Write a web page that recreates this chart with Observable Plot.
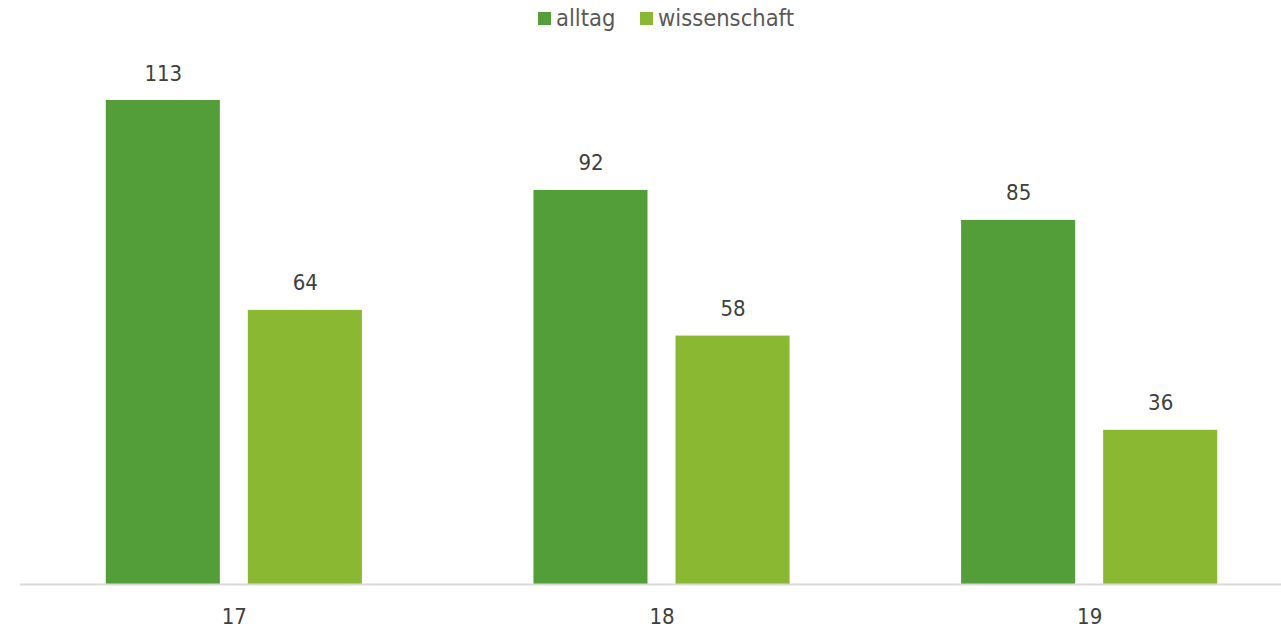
<!DOCTYPE html>
<html>
<head>
<meta charset="utf-8">
<script src="https://cdn.jsdelivr.net/npm/d3@7"></script>
<script src="https://cdn.jsdelivr.net/npm/@observablehq/plot@0.6"></script>
<style>
  html, body { margin: 0; padding: 0; background: #fff; }
  body { width: 1281px; height: 626px; position: relative; overflow: hidden; font-family: "DejaVu Sans Condensed", "DejaVu Sans", sans-serif; }
  .lg { position: absolute; top: 4px; display: flex; align-items: center; gap: 5px; font-size: 23.5px; line-height: 28px; color: #595959; z-index: 2; font-family: "DejaVu Sans Condensed", "DejaVu Sans", sans-serif; white-space: nowrap; }
  .lg span.sw { width: 13px; height: 13px; display: inline-block; }
  #chart { position: absolute; top: 0; left: 0; }
</style>
</head>
<body>
<div id="legend"></div>
<div id="chart"></div>
<script>
const categories = ["17", "18", "19"];
const seriesNames = ["alltag", "wissenschaft"];
const alltag = [113, 92, 85];
const wissenschaft = [64, 58, 36];
const colors = ["#549e39", "#8ab833"];
const legendLeft = [538, 640];

const data = [];
categories.forEach((c, i) => {
  data.push({cat: c, series: "alltag", value: alltag[i]});
  data.push({cat: c, series: "wissenschaft", value: wissenschaft[i]});
});

const legend = document.getElementById("legend");
seriesNames.forEach((s, i) => {
  const it = document.createElement("div");
  it.className = "lg";
  it.style.left = legendLeft[i] + "px";
  const sw = document.createElement("span");
  sw.className = "sw";
  sw.style.background = colors[i];
  it.appendChild(sw);
  it.appendChild(document.createTextNode(s));
  legend.appendChild(it);
});

const chart = Plot.plot({
  width: 1281,
  height: 626,
  marginTop: 70,
  marginBottom: 42,
  marginLeft: 20,
  marginRight: 0,
  style: {fontFamily: "DejaVu Sans Condensed, DejaVu Sans, sans-serif", fontSize: "22px", color: "#595959", overflow: "visible"},
  fx: {domain: categories, range: [20, 1303], padding: 0, round: false, label: null, axis: null},
  x: {domain: seriesNames, paddingInner: 0.197, paddingOuter: 0.604, round: false, axis: null},
  y: {domain: [0, 120], axis: null},
  color: {domain: seriesNames, range: colors},
  marks: [
    Plot.barY(data, {fx: "cat", x: "series", y: "value", fill: "series", inset: 0}),
    Plot.text(data, {fx: "cat", x: "series", y: "value", text: d => String(d.value), dy: -27, fill: "#404040", fontSize: 22}),
    Plot.text(data.filter(d => d.series === "alltag"), {fx: "cat", frameAnchor: "bottom", text: "cat", dy: 39, fill: "#404040", fontSize: 22}),
    Plot.ruleY([0], {stroke: "#d9d9d9", strokeWidth: 2})
  ]
});
document.getElementById("chart").appendChild(chart);
</script>
</body>
</html>
